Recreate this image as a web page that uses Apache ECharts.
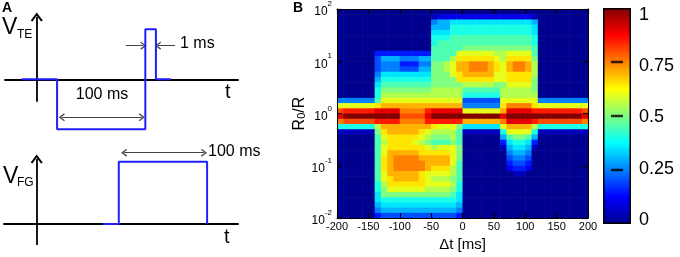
<!DOCTYPE html>
<html>
<head>
<meta charset="utf-8">
<script src="https://cdn.jsdelivr.net/npm/echarts@6/dist/echarts.min.js"></script>
<style>
  html, body { margin: 0; padding: 0; background: #fff; }
  #chart { width: 680px; height: 257px; }
</style>
</head>
<body>
<div id="chart"></div>
<script>
// panel A: pulse schematics (time in ms, level in arbitrary units)
const vteTime = [-17, 23, 23, 123, 123, 135, 135, 152]
const vteLevel = [0, 0, -1, -1, 1, 1, 0, 0]
const vfgTime = [75, 93, 93, 193, 193]
const vfgLevel = [0, 0, 1, 1, 0]

// panel B: bin centres (delta t in ms, log10 of R0/R)
const dtBins = [-195, -185, -175, -165, -155, -145, -135, -125, -115, -105,
  -95, -85, -75, -65, -55, -45, -35, -25, -15, -5,
  5, 15, 25, 35, 45, 55, 65, 75, 85, 95,
  105, 115, 125, 135, 145, 155, 165, 175, 185, 195]
const logRatioBins = [1.95, 1.85, 1.75, 1.65, 1.55, 1.45, 1.35, 1.25, 1.15, 1.05,
  0.95, 0.85, 0.75, 0.65, 0.55, 0.45, 0.35, 0.25, 0.15, 0.05,
  -0.05, -0.15, -0.25, -0.35, -0.45, -0.55, -0.65, -0.75, -0.85, -0.95,
  -1.05, -1.15, -1.25, -1.35, -1.45, -1.55, -1.65, -1.75, -1.85, -1.95]

// probability per cell, one row per logRatioBin (top first)
// 'a' = 0, 'b' = 0.05 ... 'u' = 1
const levelRows = [
  'aaaaaaaaaa aaaaaaaaaa aaaaaaaaaa aaaaaaaaaa',
  'aaaaaaaaaa aaaaabcccc cccccccccc cbaaaaaaaa',
  'aaaaaaaaaa aaaaafgghh hhhhhhhhhh hgaaaaaaaa',
  'aaaaaaaaaa aaaaagggii iiiiiiiiii ihaaaaaaaa',
  'aaaaaaaaaa aaaaahhhii iiiiiiiiii ihaaaaaaaa',
  'aaaaaaaaaa aaaaaiiijj jjjjjjjjjj jiaaaaaaaa',
  'aaaaaaaaaa aaaaaijjjj jjjjjjjjjj jiaaaaaaaa',
  'aaaaaaaaaa aaaaajjjjj kkkkkkkkkk kjaaaaaaaa',
  'aaaaaadddd dddddjjjjm mmmmmllmmm mjaaaaaaaa',
  'aaaaaaeggg fffggjjjln nnnnnmlnnn nkaaaaaaaa',
  'aaaaaaefff dddffkklmo oppponmopp olaaaaaaaa',
  'aaaaaaefff eeeggkklmo oppponmopp olaaaaaaaa',
  'aaaaaafhhh hhhhhkkkmn ooooommnnn nlaaaaaaaa',
  'aaaaaagiii iiiiikkkkn nnnnnmmnnn nkaaaaaaaa',
  'aaaaaahjjj jjjjjkkkkk lllllkkmmm mkaaaaaaaa',
  'aaaaaaikkk kkkkklllll jjjjjjllll lkaaaaaaaa',
  'aaaaaailll llllllllll iiiiiillll llaaaaaaaa',
  'ffffffjmmm mmmmmmmmmm eeeeeemmmm mmffffffff',
  'mmmmmmnooo oooooooooo ffffffnppp pnmmmmmmmm',
  'qrrrrrssss pppprsssss mmmmmmosss srrrrrrrrq',
  'suuuuuuuuu qqqqsuuuuu uuuuuusuuu uuuuuuuuus',
  'pqqqqqrrrr pppprrrrrr oooooopsss srqqqqqqqp',
  'iiiiiilooo ooooonmmmk hhhhhhmooo oliiiiiiii',
  'bbbbbbknoo ooonmllllj bbbbbbimmm mibbbbbbbb',
  'aaaaaajmnn nnnmlkkklj aaaaaagjkk jgaaaaaaaa',
  'aaaaaajlnn nnmlkjjjkj aaaaaadhii hdaaaaaaaa',
  'aaaaaajmnn nnnnmlmmmk aaaaaabghh gbaaaaaaaa',
  'aaaaaajmoo ooonnnnnmk aaaaaaafgg faaaaaaaaa',
  'aaaaaajnop pppooooomk aaaaaaaeff eaaaaaaaaa',
  'aaaaaajnop ppppoooomj aaaaaaadee daaaaaaaaa',
  'aaaaaajnop pppponnnlj aaaaaaacdd caaaaaaaaa',
  'aaaaaajmoo ooonmmmmlj aaaaaaaabb aaaaaaaaaa',
  'aaaaaajmno ooonmlllkj aaaaaaaaaa aaaaaaaaaa',
  'aaaaaailnn nnnnmmmmli aaaaaaaaaa aaaaaaaaaa',
  'aaaaaaikmm mmmmllllki aaaaaaaaaa aaaaaaaaaa',
  'aaaaaahkkk kkkkkkkkjh aaaaaaaaaa aaaaaaaaaa',
  'aaaaaahiii iiiiiiiiih aaaaaaaaaa aaaaaaaaaa',
  'aaaaaaghhh hhhhhhhhhg aaaaaaaaaa aaaaaaaaaa',
  'aaaaaafggg gggggggggf aaaaaaaaaa aaaaaaaaaa',
  'aaaaaadeee eeeeeeeeed aaaaaaaaaa aaaaaaaaaa'
]

const cbarTicks = [0.25, 0.5, 0.75]
const jetColors = ['#00008f', '#0000ff', '#0080ff', '#00ffff', '#80ff80',
  '#ffff00', '#ff8000', '#ff0000', '#800000']

const FONT = '"Liberation Sans", Arial, sans-serif'
const DT = 10
const DLOG = 0.1
// open arrow head, pointing up before ECharts rotates it
const CHEVRON = 'path://M0,9 L6,0 L12,9 L10.3,10 L6,3.6 L1.7,10 Z'

const heatData = []
levelRows.forEach((row, i) => {
  const cells = row.replace(/ /g, '')
  for (let j = 0; j < cells.length; j++) {
    heatData.push([dtBins[j], Math.pow(10, logRatioBins[i]), (cells.charCodeAt(j) - 97) / 20])
  }
})

const arrowLine = { color: '#444', width: 1, type: 'solid' }
const axisLine = { color: '#000', width: 1.8, type: 'solid' }
const arrow = (from, to, heads) => [
  { coord: from, symbol: heads[0] ? CHEVRON : 'none', symbolSize: [8, 6], lineStyle: arrowLine },
  { coord: to, symbol: heads[1] ? CHEVRON : 'none', symbolSize: [8, 6], lineStyle: arrowLine }
]
const upAxis = (lo, hi) => [
  { coord: [0, lo], symbol: 'none', lineStyle: axisLine },
  { coord: [0, hi], symbol: CHEVRON, symbolSize: [12, 9], lineStyle: axisLine }
]

const text = (str, x, y, size, extra) => ({
  type: 'text', x: x, y: y, silent: true, z: 20,
  style: Object.assign({ text: str, fill: '#000', font: size + 'px ' + FONT, align: 'left', verticalAlign: 'middle' }, extra || {})
})

const hiddenValue = (grid, min, max) => ({ gridIndex: grid, type: 'value', min: min, max: max, show: false })
const schematicX = (grid, min, max) => ({
  gridIndex: grid, type: 'value', min: min, max: max,
  axisLine: { onZero: true, lineStyle: { color: '#000', width: 1.8 } },
  axisTick: { show: false }, axisLabel: { show: false }, splitLine: { show: false }
})

const boxLine = { onZero: false, lineStyle: { color: '#000', width: 1 } }
const boxTick = { inside: true, length: 5, lineStyle: { color: '#000', width: 1.2 } }

const chart = echarts.init(document.getElementById('chart'))

chart.setOption({
  animation: false,
  textStyle: { fontFamily: FONT },
  grid: [
    { left: 5, top: 10, width: 233, height: 125 },
    { left: 4, top: 145, width: 234, height: 105 },
    { left: 337, top: 9, width: 251, height: 215 },
    { left: 603, top: 8, width: 28, height: 216 },
    { left: 603, top: 15, width: 28, height: 205 }
  ],
  xAxis: [
    schematicX(0, -36, 228),
    schematicX(1, -37, 228),
    {
      gridIndex: 2, type: 'value', min: -200, max: 200, interval: 50, z: 10,
      axisLine: boxLine, axisTick: boxTick, splitLine: { show: false },
      axisLabel: { fontSize: 11, margin: 3, color: '#000' },
      name: 'Δt [ms]', nameLocation: 'middle', nameGap: 11,
      nameTextStyle: { fontSize: 15, color: '#000' }
    },
    {
      gridIndex: 2, type: 'value', min: -200, max: 200, interval: 50, z: 10, position: 'top',
      axisLine: boxLine, axisTick: boxTick, splitLine: { show: false }, axisLabel: { show: false }
    },
    { gridIndex: 3, type: 'category', data: ['bar'], show: false },
    { gridIndex: 4, type: 'category', data: ['bar'], show: false }
  ],
  yAxis: [
    hiddenValue(0, -1.114, 1.386),
    hiddenValue(1, -0.417, 1.268),
    {
      gridIndex: 2, type: 'log', logBase: 10, min: 0.01, max: 100, splitNumber: 4, z: 10,
      axisLine: boxLine, axisTick: boxTick, splitLine: { show: false },
      axisLabel: {
        margin: 5,
        formatter: v => '{b|10}{e|' + Math.round(Math.log10(v)) + '}',
        rich: {
          b: { fontSize: 12, color: '#000', fontFamily: FONT, padding: [6, 0, 0, 0] },
          e: { fontSize: 8, color: '#000', fontFamily: FONT, verticalAlign: 'top', padding: [0, 0, 5, 0] }
        }
      },
      name: '{r|R}{s|0}{r|/R}', nameLocation: 'middle', nameGap: 26,
      nameTextStyle: {
        rich: {
          r: { fontSize: 16, color: '#000', fontFamily: FONT },
          s: { fontSize: 11, color: '#000', fontFamily: FONT, padding: [6, 0, 0, 0] }
        }
      }
    },
    {
      gridIndex: 2, type: 'log', logBase: 10, min: 0.01, max: 100, splitNumber: 4, z: 10, position: 'right',
      axisLine: boxLine, axisTick: boxTick, splitLine: { show: false }, axisLabel: { show: false }
    },
    { gridIndex: 3, type: 'value', min: 0, max: 1, show: false },
    {
      gridIndex: 4, type: 'value', min: 0, max: 1, interval: 0.25, position: 'right',
      axisLine: { show: false }, axisTick: { show: false }, splitLine: { show: false },
      axisLabel: { fontSize: 18, margin: 8, color: '#000' }
    }
  ],
  visualMap: {
    type: 'continuous', show: false, min: 0, max: 1, dimension: 2, seriesIndex: 2,
    inRange: { color: jetColors }
  },
  series: [
    {
      type: 'line', xAxisIndex: 0, yAxisIndex: 0, z: 5, clip: false, symbol: 'none',
      data: vteTime.map((t, k) => [t, vteLevel[k]]),
      lineStyle: { color: '#2020ff', width: 2 },
      markLine: {
        silent: true, label: { show: false }, symbol: ['none', 'none'],
        data: [
          upAxis(-0.448, 1.246),
          arrow([28.3, -0.76], [119, -0.76], [true, true]),
          arrow([101, 0.672], [120.8, 0.672], [false, true]),
          arrow([156.6, 0.672], [137.4, 0.672], [false, true])
        ]
      }
    },
    {
      type: 'line', xAxisIndex: 1, yAxisIndex: 1, z: 5, clip: false, symbol: 'none',
      data: vfgTime.map((t, k) => [t, vfgLevel[k]]),
      lineStyle: { color: '#2020ff', width: 2 },
      markLine: {
        silent: true, label: { show: false }, symbol: ['none', 'none'],
        data: [
          upAxis(-0.337, 1.043),
          arrow([99, 1.144], [189.5, 1.144], [true, true])
        ]
      }
    },
    {
      type: 'custom', xAxisIndex: 2, yAxisIndex: 2, data: heatData, clip: true, silent: true, z: 1,
      encode: { x: 0, y: 1 },
      renderItem(params, api) {
        const t = api.value(0)
        const lg = Math.log10(api.value(1))
        const p0 = api.coord([t - DT / 2, Math.pow(10, lg + DLOG / 2)])
        const p1 = api.coord([t + DT / 2, Math.pow(10, lg - DLOG / 2)])
        return {
          type: 'rect',
          shape: { x: p0[0], y: p0[1], width: p1[0] - p0[0] + 0.6, height: p1[1] - p0[1] + 0.6 },
          style: { fill: api.visual('color') }
        }
      }
    },
    {
      type: 'bar', xAxisIndex: 4, yAxisIndex: 4, data: [1], barWidth: '100%', silent: true,
      itemStyle: {
        borderColor: '#000', borderWidth: 1.5,
        color: {
          type: 'linear', x: 0, y: 0, x2: 0, y2: 1,
          colorStops: jetColors.slice().reverse().map((c, k) => ({ offset: k / (jetColors.length - 1), color: c }))
        }
      }
    },
    {
      type: 'scatter', xAxisIndex: 4, yAxisIndex: 4, silent: true, z: 5,
      data: cbarTicks.map(v => [0, v]),
      symbol: 'rect', symbolSize: [12, 2.5], itemStyle: { color: '#000' }
    }
  ],
  graphic: [
    text('A', 2, 8, 14, { font: 'bold 14px ' + FONT }),
    text('V', 2, 27.5, 23),
    text('TE', 17, 35, 12),
    text('t', 225, 92, 20),
    text('100 ms', 102, 95, 16, { align: 'center' }),
    text('1 ms', 180, 43.5, 16),
    text('V', 3, 176.5, 23),
    text('FG', 17, 183, 12),
    text('100 ms', 208, 151.5, 16),
    text('t', 224, 237, 20),
    text('B', 293, 8, 14, { font: 'bold 14px ' + FONT })
  ]
})
</script>
</body>
</html>
